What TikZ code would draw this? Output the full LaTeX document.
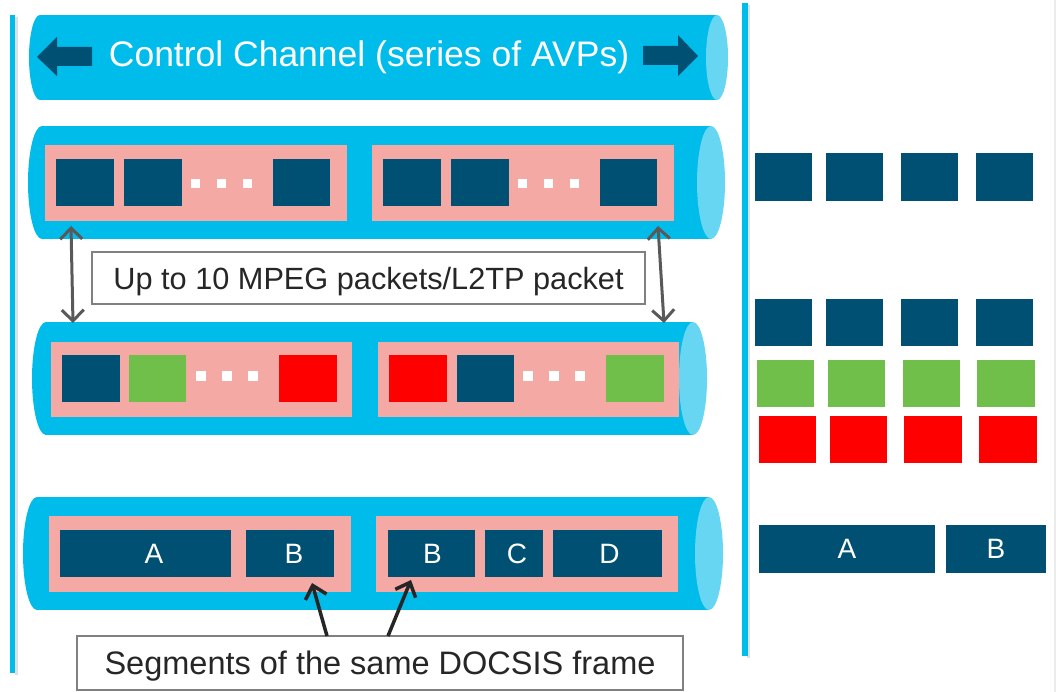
\documentclass[tikz,border=0pt]{standalone}
\usepackage{fontspec}
\setmainfont{Liberation Sans}
\usetikzlibrary{arrows.meta}

\definecolor{pipebody}{RGB}{0,188,235}
\definecolor{pipeend}{RGB}{102,214,242}
\definecolor{pinkbg}{RGB}{244,169,165}
\definecolor{navy}{RGB}{0,80,115}
\definecolor{grn}{RGB}{112,191,74}
\definecolor{redb}{RGB}{255,0,0}
\definecolor{txt}{RGB}{38,38,38}
\definecolor{arrg}{RGB}{89,89,89}
\definecolor{framec}{RGB}{128,128,128}

% rectangular block from (x1,y1) to (x2,y2): style, x1, y1, x2, y2, name, text
\newcommand\blk[7]{\node[#1, minimum width={(#4)-(#2)}, minimum height={(#5)-(#3)}]
  (#6) at ({((#2)+(#4))/2},{((#3)+(#5))/2}) {#7};}

% horizontal cylinder: top, bottom, left extreme, end radius, centre of right end
\newcommand\pipe[5]{%
  \fill[pipebody] ({(#3)+(#4)},{((#1)+(#2))/2}) ellipse [x radius=#4, y radius={((#2)-(#1))/2}];
  \fill[pipebody] ({(#3)+(#4)},#1) rectangle (#5,#2);
  \fill[pipeend] (#5,{((#1)+(#2))/2}) ellipse [x radius=#4, y radius={((#2)-(#1))/2}];}

\begin{document}
\begin{tikzpicture}[x=1pt,y=-1pt,
  cell/.style={inner sep=0pt, outer sep=0pt, draw=none},
  pk/.style={cell, fill=pinkbg},
  nv/.style={cell, fill=navy, text=white, font=\fontsize{28}{32}\selectfont},
  gr/.style={cell, fill=grn},
  rd/.style={cell, fill=redb},
  gapdot/.style={cell, fill=white},
  callout/.style={draw=framec, line width=2pt, fill=white, text=txt, inner sep=0pt, text depth=0pt},
  dbl/.style={draw=arrg, line width=3pt,
    {Straight Barb[length=11pt,width=22pt]}-{Straight Barb[length=11pt,width=22pt]}},
  ptr/.style={draw=txt, line width=3.5pt, -{Straight Barb[length=12pt,width=22pt]}},
]
\useasboundingbox (0,0) rectangle (1056,692);
\fill[white] (0,0) rectangle (1056,692);

% separators
\draw[line width=3pt, black!12] (16,17) -- (16,675);
\draw[line width=3pt, black!12] (748.5,5) -- (748.5,658);
\draw[line width=2pt, black!8] (1055,0) -- (1055,692);
\draw[line width=5.5pt, pipebody] (12.5,15) -- (12.5,673);
\draw[line width=5.5pt, pipebody] (745,3) -- (745,656);

% control channel
\pipe{15}{100}{29}{11}{717}
\fill[navy] (37,57) -- (57,37) -- (57,47) -- (92,47) -- (92,66) -- (57,66) -- (57,76) -- cycle;
\fill[navy] (698,56) -- (678,35) -- (678,46) -- (643,46) -- (643,65) -- (678,65) -- (678,76) -- cycle;
\node[anchor=base, text=white, font=\fontsize{35.5}{40}\selectfont, inner sep=0pt] (ctl) at (369,67)
  {Control Channel (series of AVPs)};

% single-flow tunnel
\pipe{126}{239}{28}{14}{711}
\blk{pk}{45}{145}{347}{221}{p2a}{}
\blk{nv}{56}{159}{114}{206}{p2a1}{}
\blk{nv}{124}{159}{182}{206}{p2a2}{}
\blk{gapdot}{191}{179}{200}{188}{p2ad1}{}
\blk{gapdot}{217}{179}{226}{188}{p2ad2}{}
\blk{gapdot}{243}{179}{252}{188}{p2ad3}{}
\blk{nv}{273}{159}{330}{206}{p2a3}{}
\blk{pk}{372}{145}{674}{221}{p2b}{}
\blk{nv}{383}{159}{441}{206}{p2b1}{}
\blk{nv}{451}{159}{509}{206}{p2b2}{}
\blk{gapdot}{518}{179}{527}{188}{p2bd1}{}
\blk{gapdot}{544}{179}{553}{188}{p2bd2}{}
\blk{gapdot}{570}{179}{579}{188}{p2bd3}{}
\blk{nv}{600}{159}{657}{206}{p2b3}{}

% multi-flow tunnel
\pipe{322}{435}{32}{14}{693}
\blk{pk}{51}{342}{352}{417}{p3a}{}
\blk{nv}{62}{355}{120}{402}{p3a1}{}
\blk{gr}{129}{355}{186}{402}{p3a2}{}
\blk{gapdot}{196}{371}{206}{381}{p3ad1}{}
\blk{gapdot}{222}{371}{232}{381}{p3ad2}{}
\blk{gapdot}{248}{371}{258}{381}{p3ad3}{}
\blk{rd}{279}{355}{337}{402}{p3a3}{}
\blk{pk}{378}{342}{679}{417}{p3b}{}
\blk{rd}{389}{355}{447}{402}{p3b1}{}
\blk{nv}{457}{355}{514}{402}{p3b2}{}
\blk{gapdot}{523}{371}{533}{381}{p3bd1}{}
\blk{gapdot}{549}{371}{559}{381}{p3bd2}{}
\blk{gapdot}{575}{371}{585}{381}{p3bd3}{}
\blk{gr}{606}{355}{664}{402}{p3b3}{}

% segmented frames
\pipe{497}{610}{23}{14}{709}
\blk{pk}{49}{516}{351}{592}{p4a}{}
\blk{nv}{60}{530}{231}{577}{p4a1}{\hspace{17pt}A}
\blk{nv}{246}{530}{334}{577}{p4a2}{\hspace{8pt}B}
\blk{pk}{376}{516}{678}{592}{p4b}{}
\blk{nv}{388}{530}{475}{577}{p4b1}{\hspace{2pt}B}
\blk{nv}{485}{530}{543}{577}{p4b2}{\hspace{6pt}C}
\blk{nv}{553}{530}{662}{577}{p4b3}{\hspace{4pt}D}

% packet count note
\node[callout, minimum width=553, minimum height=52, text height=22pt,
  font=\fontsize{30.7}{34}\selectfont] (mpeg) at (368.5,278) {Up to 10 MPEG packets/L2TP packet};
\coordinate (dl1) at (71,226);
\coordinate (dl2) at (73,323);
\coordinate (dr1) at (658,226);
\coordinate (dr2) at (664,323);
\draw[dbl] (dl1) -- (dl2);
\draw[dbl] (dr1) -- (dr2);

% segment note
\node[callout, minimum width=606, minimum height=54, text height=23pt,
  font=\fontsize{32.5}{36}\selectfont] (seg) at (380,663) {Segments of the same DOCSIS frame};
\coordinate (s1) at (327,636);
\coordinate (s2) at (388,636);
\coordinate (t1) at (312,583);
\coordinate (t2) at (411,580);
\draw[ptr] (s1) -- (t1);
\draw[ptr] (s2) -- (t2);

% flows on the right
\blk{nv}{755}{153}{812}{201}{r1a}{}
\blk{nv}{826}{153}{883}{201}{r1b}{}
\blk{nv}{901}{153}{958}{201}{r1c}{}
\blk{nv}{976}{153}{1033}{201}{r1d}{}
\blk{nv}{755}{299}{812}{346}{r2a}{}
\blk{nv}{826}{299}{883}{346}{r2b}{}
\blk{nv}{901}{299}{958}{346}{r2c}{}
\blk{nv}{976}{299}{1033}{346}{r2d}{}
\blk{gr}{757}{360}{814}{407}{r3a}{}
\blk{gr}{828}{360}{885}{407}{r3b}{}
\blk{gr}{903}{360}{960}{407}{r3c}{}
\blk{gr}{977}{360}{1035}{407}{r3d}{}
\blk{rd}{759}{416}{816}{463}{r4a}{}
\blk{rd}{830}{416}{887}{463}{r4b}{}
\blk{rd}{904}{416}{962}{463}{r4c}{}
\blk{rd}{979}{416}{1037}{463}{r4d}{}
\blk{nv}{759}{525}{935}{573}{r5a}{A}
\blk{nv}{946}{525}{1046}{573}{r5b}{B}
\end{tikzpicture}
\end{document}
